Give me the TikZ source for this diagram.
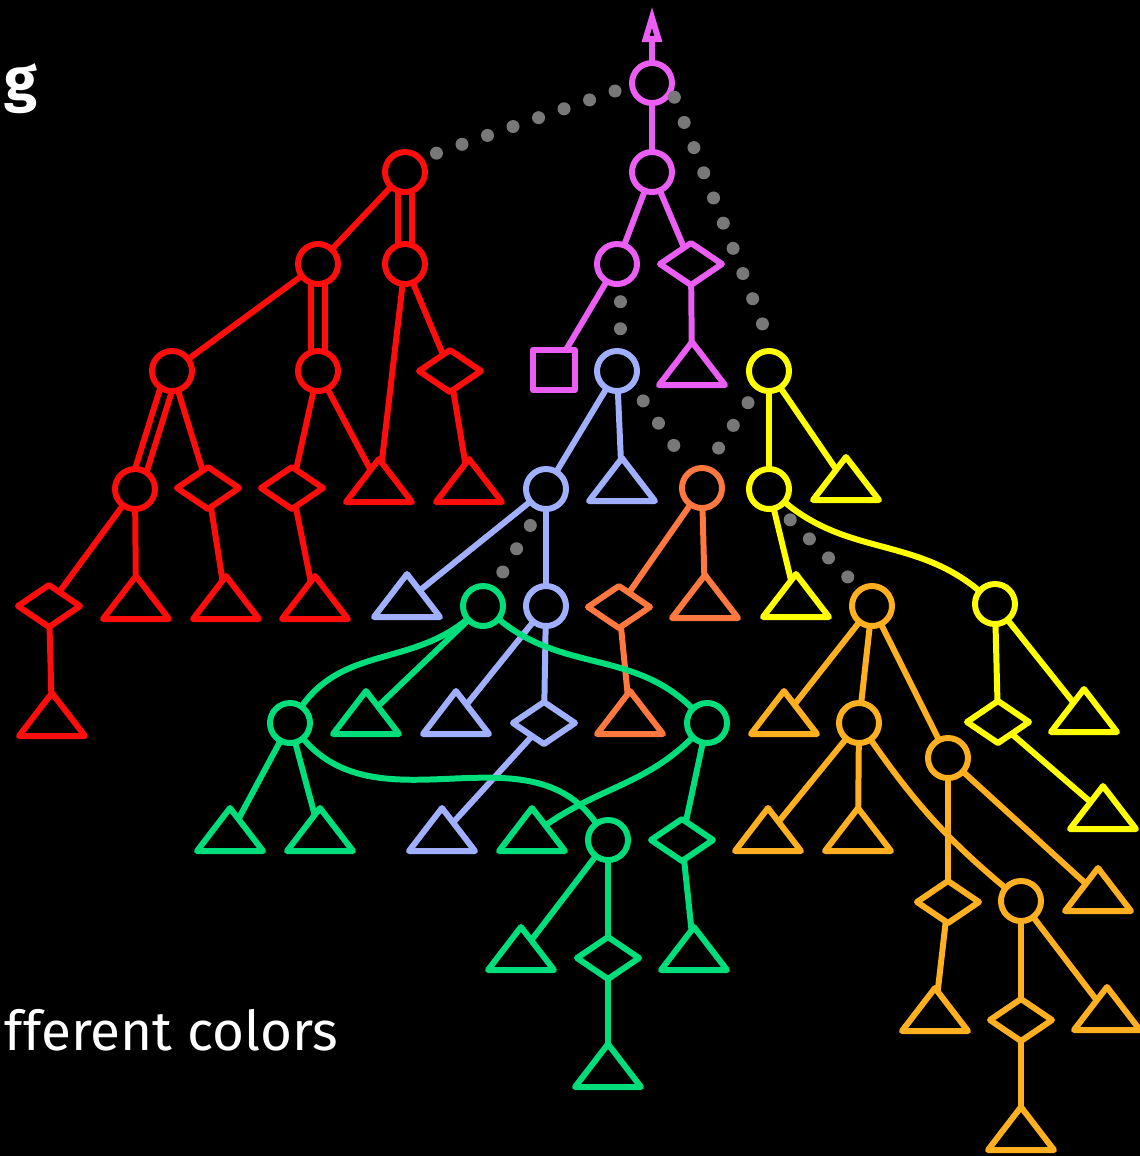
\documentclass[tikz,border=0pt]{standalone}
\usepackage{fontspec}
\setmainfont{Fira Sans}
\usepackage{tikz}
\usetikzlibrary{arrows.meta,shapes.geometric}

\definecolor{magc}{RGB}{234,94,244}
\definecolor{redc}{RGB}{255,12,12}
\definecolor{bluec}{RGB}{160,176,255}
\definecolor{orangec}{RGB}{255,120,64}
\definecolor{yellowc}{RGB}{255,255,0}
\definecolor{amberc}{RGB}{255,176,32}
\definecolor{greenc}{RGB}{0,222,124}
\definecolor{dotgray}{RGB}{120,120,120}

\begin{document}
\begin{tikzpicture}[
    x=0.01cm, y=-0.01cm,
    line width=1.7pt, line join=round,
    circ/.style={circle, draw, minimum size=0.40cm, inner sep=0pt, outer sep=0pt},
    diam/.style={diamond, draw, minimum width=0.62cm, minimum height=0.42cm, inner sep=0pt, outer sep=0pt},
    sq/.style={rectangle, draw, minimum width=0.42cm, minimum height=0.40cm, inner sep=0pt, outer sep=0pt},
    tri/.style={isosceles triangle, isosceles triangle stretches, shape border rotate=90, draw, minimum width=0.66cm, minimum height=0.43cm, inner sep=0pt, outer sep=0pt, anchor=apex},
    dotline/.style={draw=dotgray, line width=0.13cm, line cap=round, dash pattern=on 0pt off 0.27cm},
    slidetext/.style={text=white, inner sep=0pt, anchor=base west}
]
\useasboundingbox (0,0) rectangle (1140,1156);
\fill[black] (0,0) rectangle (1140,1156);

\node[slidetext, font=\bfseries\fontsize{17}{20}\selectfont] (heading) at (2,100) {g};
\node[slidetext, font=\fontsize{15.6}{18}\selectfont] (caption) at (2,1050) {fferent colors};

\begin{scope}[magc]
\node[circ] (m1) at (652,83) {};
\node[circ] (m2) at (652,172) {};
\node[circ] (m3) at (617,264) {};
\node[diam] (m4) at (691,264) {};
\node[sq] (m5) at (554,370) {};
\node[tri] (m6) at (692,342) {};
\coordinate (mtop) at (652,6);
\draw[-{Triangle[open,length=0.36cm,width=0.19cm]}] (m1) -- (mtop);
\draw (m1) -- (m2);
\draw (m2) -- (m3);
\draw (m2) -- (m4);
\draw (m3) -- (m5);
\draw (m4) -- (m6);
\end{scope}

\begin{scope}[redc]
\node[circ] (r1) at (405,172) {};
\node[circ] (r2) at (318,264) {};
\node[circ] (r3) at (405,264) {};
\node[circ] (r4) at (172,371) {};
\node[circ] (r5) at (318,371) {};
\node[diam] (r6) at (450,371) {};
\node[circ] (r7) at (135,489) {};
\node[diam] (r8) at (208,488) {};
\node[diam] (r9) at (292,488) {};
\node[tri] (r10) at (379,459) {};
\node[tri] (r11) at (469,459) {};
\node[diam] (r12) at (49,606) {};
\node[tri] (r13) at (136,576) {};
\node[tri] (r14) at (226,576) {};
\node[tri] (r15) at (315,576) {};
\node[tri] (r16) at (52,693) {};
\draw (r1) -- (r2);
\draw (r1.250) -- (r3.110);
\draw (r1.290) -- (r3.70);
\draw (r2) -- (r4);
\draw (r2.250) -- (r5.110);
\draw (r2.290) -- (r5.70);
\draw (r3) -- (r10);
\draw (r3) -- (r6);
\draw (r4.235) -- (r7.90);
\draw (r4.270) -- (r7.55);
\draw (r4) -- (r8);
\draw (r5) -- (r9);
\draw (r5) -- (r10);
\draw (r6) -- (r11);
\draw (r7) -- (r12);
\draw (r7) -- (r13);
\draw (r8) -- (r14);
\draw (r9) -- (r15);
\draw (r12) -- (r16);
\end{scope}

\begin{scope}[bluec]
\node[circ] (b1) at (617,371) {};
\node[circ] (b2) at (546,489) {};
\node[tri] (b3) at (622,458) {};
\node[tri] (b4) at (407,574) {};
\node[circ] (b5) at (546,606) {};
\node[tri] (b6) at (456,691) {};
\node[diam] (b7) at (544,723) {};
\node[tri] (b8) at (442,808) {};
\draw (b1) -- (b2);
\draw (b1) -- (b3);
\draw (b2) -- (b4);
\draw (b2) -- (b5);
\draw (b5) -- (b6);
\draw (b5) -- (b7);
\draw (b7) -- (b8);
\end{scope}

\begin{scope}[orangec]
\node[circ] (o1) at (702,488) {};
\node[diam] (o2) at (619,607) {};
\node[tri] (o3) at (705,575) {};
\node[tri] (o4) at (630,691) {};
\draw (o1) -- (o2);
\draw (o1) -- (o3);
\draw (o2) -- (o4);
\end{scope}

\begin{scope}[yellowc]
\node[circ] (y1) at (769,371) {};
\node[circ] (y2) at (769,489) {};
\node[tri] (y3) at (846,457) {};
\node[tri] (y4) at (796,574) {};
\node[circ] (y5) at (995,604) {};
\node[diam] (y6) at (998,722) {};
\node[tri] (y7) at (1084,689) {};
\node[tri] (y8) at (1103,786) {};
\draw (y1) -- (y2);
\draw (y1) -- (y3);
\draw (y2) -- (y4);
\draw (y2) to[out=-40,in=140] (y5);
\draw (y5) -- (y6);
\draw (y5) -- (y7);
\draw (y6) -- (y8);
\end{scope}

\begin{scope}[amberc]
\node[circ] (a1) at (872,606) {};
\node[tri] (a2) at (784,691) {};
\node[circ] (a3) at (859,723) {};
\node[circ] (a4) at (948,758) {};
\node[tri] (a5) at (768,808) {};
\node[tri] (a6) at (858,808) {};
\node[diam] (a7) at (948,902) {};
\node[circ] (a8) at (1021,901) {};
\node[tri] (a9) at (1098,868) {};
\node[tri] (a10) at (935,988) {};
\node[diam] (a11) at (1021,1020) {};
\node[tri] (a12) at (1107,987) {};
\node[tri] (a13) at (1021,1107) {};
\draw (a1) -- (a2);
\draw (a1) -- (a3);
\draw (a1) -- (a4);
\draw (a3) -- (a5);
\draw (a3) -- (a6);
\draw (a3) to[out=-55,in=140] (a8);
\draw (a4) -- (a7);
\draw (a4) -- (a9);
\draw (a7) -- (a10);
\draw (a8) -- (a11);
\draw (a8) -- (a12);
\draw (a11) -- (a13);
\end{scope}

\begin{scope}[greenc]
\node[circ] (g1) at (483,606) {};
\node[circ] (g2) at (290,723) {};
\node[tri] (g3) at (366,691) {};
\node[circ] (g4) at (707,723) {};
\node[tri] (g5) at (230,808) {};
\node[tri] (g6) at (320,808) {};
\node[tri] (g7) at (532,808) {};
\node[circ] (g8) at (608,840) {};
\node[diam] (g9) at (682,840) {};
\node[tri] (g10) at (521,927) {};
\node[diam] (g11) at (608,958) {};
\node[tri] (g12) at (694,927) {};
\node[tri] (g13) at (608,1044) {};
\draw (g1) to[out=220,in=55] (g2);
\draw (g1) -- (g3);
\draw (g1) to[out=-40,in=135] (g4);
\draw (g2) -- (g5);
\draw (g2) -- (g6);
\draw (g2) to[out=-50,in=125] (g8);
\draw (g4) to[out=225,in=35] (g7);
\draw (g4) -- (g9);
\draw (g8) -- (g10);
\draw (g8) -- (g11);
\draw (g9) -- (g12);
\draw (g11) -- (g13);
\end{scope}

\draw[dotline, shorten <=0.18cm, shorten >=0.1cm] (m1.186) -- (r1.41);
\draw[dotline, shorten <=0.09cm, shorten >=0.2cm] (m1.-17) -- (y1.78);
\draw[dotline, shorten <=0.18cm, shorten >=0.1cm] (m3.-80) -- (b1.80);
\draw[dotline, shorten <=0.2cm, shorten >=0.1cm] (b1.-42) -- (o1.122);
\draw[dotline, shorten <=0.18cm, shorten >=0.1cm] (y1.236) -- (o1.80);
\draw[dotline, shorten <=0.2cm, shorten >=0.05cm] (b2.254) -- (g1.60);
\draw[dotline, shorten <=0.18cm, shorten >=0.05cm] (y2.-65) -- (a1.125);
\end{tikzpicture}
\end{document}
